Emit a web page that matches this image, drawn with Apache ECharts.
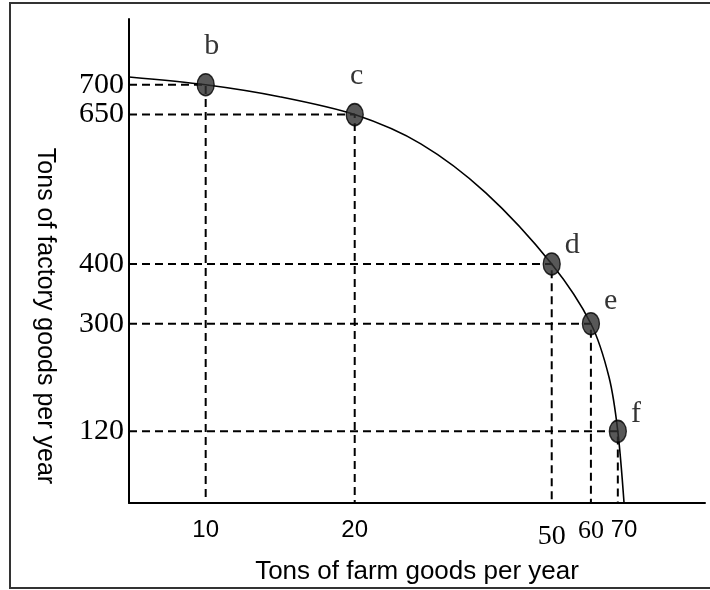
<!DOCTYPE html>
<html>
<head>
<meta charset="utf-8">
<script src="https://cdn.jsdelivr.net/npm/echarts@6/dist/echarts.min.js"></script>
<style>
html, body { margin: 0; padding: 0; background: #fff; }
#chart { width: 710px; height: 590px; }
</style>
</head>
<body>
<div id="chart"></div>
<script>
// production possibilities: farm goods (x) vs factory goods (y)
const pointNames = ['b', 'c', 'd', 'e', 'f']
const farmGoods = [10, 20, 50, 60, 68]
const factoryGoods = [700, 650, 400, 300, 120]

// frontier curve as drawn, ends on the axes
const curveFarm = [7, 10, 14.1, 20, 27.2, 36.8, 50, 60, 65.3, 68, 70]
const curveFactory = [713, 700, 680, 650, 601, 519, 400, 300, 210, 120, 0]

const xTicks = [10, 20, 50, 60, 70]
const yTicks = [120, 300, 400, 650, 700]

const X_MIN = 7
const X_MAX = 102
const Y_MAX = 810

const SANS = 'Liberation Sans'
const SERIF = 'Liberation Serif'

// which x tick labels are set in the serif face
const xTickRich = { 50: 'big', 60: 'small' }

// label placement for b..f
const labelPos = ['top', 'top', 'right', 'right', 'right']
const labelOffset = [[6, 0], [2, 0], [0, -19], [0, -23], [0, -17]]

const chart = echarts.init(document.getElementById('chart'))

const guideSeries = farmGoods.map((x, i) => ({
    type: 'line',
    data: [[X_MIN, factoryGoods[i]], [x, factoryGoods[i]], [x, 0]],
    symbol: 'none',
    silent: true,
    z: 1,
    lineStyle: { color: '#000', width: 2, type: [8, 5] },
}))

const option = {
    animation: false,
    backgroundColor: '#fff',
    grid: { left: 129, right: 5, top: 19, bottom: 87 },
    graphic: [
        {
            type: 'rect',
            silent: true,
            z: -1,
            shape: { x: 10, y: 3, width: 710, height: 585 },
            style: { fill: 'none', stroke: '#333', lineWidth: 2 },
        },
    ],
    xAxis: {
        type: 'log',
        logBase: 10,
        min: X_MIN,
        max: X_MAX,
        name: 'Tons of farm goods per year',
        nameLocation: 'middle',
        nameGap: 56,
        nameTextStyle: { fontFamily: SANS, fontSize: 26, color: '#000' },
        axisLine: { lineStyle: { color: '#000', width: 2 } },
        axisTick: { show: false },
        splitLine: { show: false },
        minorTick: { show: false },
        axisLabel: {
            customValues: xTicks,
            margin: 15,
            color: '#000',
            fontFamily: SANS,
            fontSize: 24,
            formatter: v => (xTickRich[v] ? `{${xTickRich[v]}|${v}}` : `${v}`),
            rich: {
                big: { fontFamily: SERIF, fontSize: 28, color: '#000', padding: [5, 0, 0, 0] },
                small: { fontFamily: SERIF, fontSize: 26, color: '#000' },
            },
        },
    },
    yAxis: {
        type: 'value',
        min: 0,
        max: Y_MAX,
        name: 'Tons of factory goods per year',
        nameLocation: 'middle',
        nameRotate: -90,
        nameGap: 72,
        nameTextStyle: {
            fontFamily: SANS,
            fontSize: 25,
            color: '#000',
            padding: [0, 0, 0, 110],
        },
        axisLine: { show: true, lineStyle: { color: '#000', width: 2 } },
        axisTick: { show: false },
        splitLine: { show: false },
        axisLabel: {
            customValues: yTicks,
            margin: 5,
            color: '#000',
            fontFamily: SERIF,
            fontSize: 30,
        },
    },
    series: [
        ...guideSeries,
        {
            name: 'frontier',
            type: 'line',
            data: curveFarm.map((x, i) => [x, curveFactory[i]]),
            smooth: 0.3,
            symbol: 'none',
            silent: true,
            z: 2,
            lineStyle: { color: '#000', width: 1.6 },
        },
        {
            name: 'points',
            type: 'scatter',
            z: 3,
            symbol: 'circle',
            symbolSize: [17, 22],
            itemStyle: { color: '#2e2e2e', borderColor: '#000', borderWidth: 1.5 },
            data: farmGoods.map((x, i) => ({
                value: [x, factoryGoods[i]],
                label: {
                    show: true,
                    position: labelPos[i],
                    offset: labelOffset[i],
                    distance: labelPos[i] === 'top' ? 12 : 4,
                    formatter: pointNames[i],
                    fontFamily: SERIF,
                    fontSize: 30,
                    color: '#000',
                },
            })),
        },
    ],
}

chart.setOption(option)
</script>
</body>
</html>
